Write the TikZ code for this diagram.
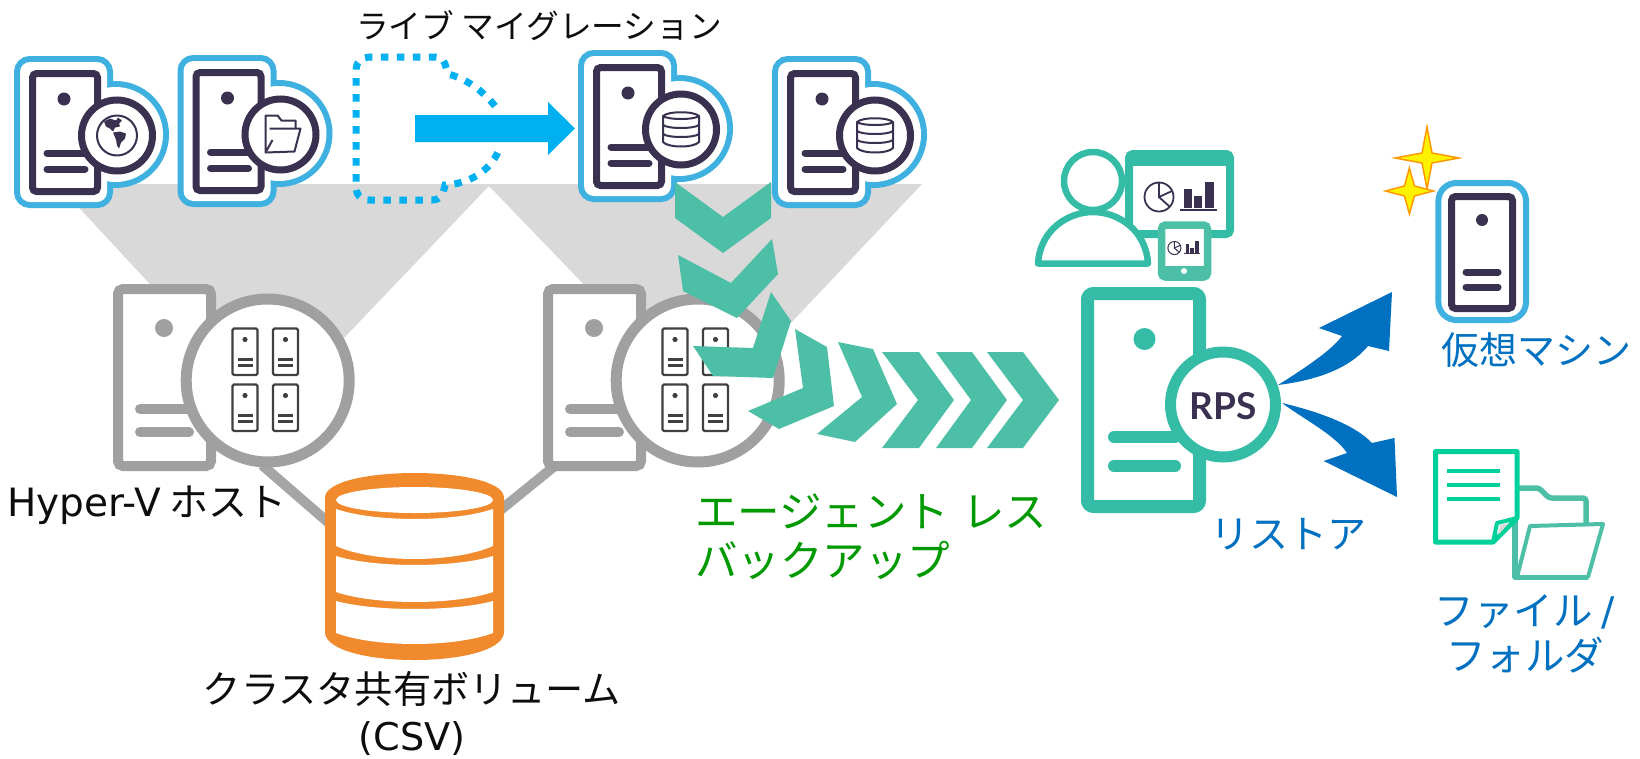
\documentclass[tikz,border=0pt]{standalone}
\usepackage{fontspec}
\usepackage{xcolor}
\setmainfont{Noto Sans CJK JP}
\newfontfamily\latinfont{DejaVu Sans}
\newfontfamily\badgefont{Lato}
\usetikzlibrary{calc}
\definecolor{vmblue}{HTML}{3FB1E0}
\definecolor{vmdark}{HTML}{3A3050}
\definecolor{wedge}{HTML}{D9D9D9}
\definecolor{hostgrey}{HTML}{A0A0A0}
\definecolor{glyphgrey}{HTML}{404040}
\definecolor{drum}{HTML}{F08A2C}
\definecolor{skyarrow}{HTML}{00B0F0}
\definecolor{chevron}{HTML}{4DBFA6}
\definecolor{rpsteal}{HTML}{34BCA6}
\definecolor{restoreblue}{HTML}{0070C0}
\definecolor{filegreen}{HTML}{00D19A}
\definecolor{agentgreen}{HTML}{009900}
\newcommand{\sized}[2]{\fontsize{#1}{#2}\selectfont}
\tikzset{
  every node/.style = {inner sep=0pt, text=black!95}
}
\tikzset{
  vm ring/.style = {draw=vmblue, line width=12pt},
  vm frame/.style = {draw=vmdark, line width=7pt, rounded corners=4pt},
  vm bar/.style = {draw=vmdark, line width=7pt, line cap=round},
  glyph line/.style = {draw=vmdark, line width=2pt, line join=round},
  host frame/.style = {draw=hostgrey, line width=10pt, rounded corners=5pt, fill=white},
  host bar/.style = {draw=hostgrey, line width=10pt, line cap=round},
  csv link/.style = {draw=hostgrey!95, line width=10pt},
  rps frame/.style = {draw=rpsteal, line width=13pt, rounded corners=6pt, fill=white},
  rps bar/.style = {draw=rpsteal, line width=12pt, line cap=round},
  person line/.style = {draw=rpsteal, line width=6.5pt, fill=white},
  spark/.style = {fill=yellow, draw=orange!80!yellow, line width=1.5pt, line join=miter}
}
\newcommand{\drawvm}[3]{
  \begin{scope}[shift={(#1,#2)}]
    \draw[vm ring, rounded corners=10pt] (6,6) rectangle (93,146);
    \draw[vm ring] (101.5,78.5) circle[radius=47.5];
    \fill[white, rounded corners=10pt] (6,6) rectangle (93,146);
    \fill[white] (101.5,78.5) circle[radius=47.5];
    \draw[vm frame] (18.5,17.5) rectangle (83.5,135.5);
    \fill[vmdark] (50,43) circle[radius=6.5];
    \draw[vm bar] (33,97) -- (71,97);
    \draw[vm bar] (33,113) -- (71,113);
    \draw[draw=vmdark, line width=7pt, fill=white] (103,79.5) circle[radius=35.5];
    #3
  \end{scope}
}
\newcommand{\glyphglobe}{
  \draw[glyph line] (103,79.5) circle[radius=20];
  \fill[vmdark, rounded corners=0.5pt] (90,65.5) -- (96,62.5) -- (102,64.5) -- (104,61.5) -- (108,64.5)
    -- (105,67.5) -- (106,70.5) -- (101,71.5) -- (99,75.5) -- (96,72.5) -- (92,70.5) -- cycle;
  \fill[vmdark, rounded corners=0.5pt] (99,76.5) -- (106,75.5) -- (112,77.5) -- (111,82.5)
    -- (107,86.5) -- (105,92.5) -- (103,89.5) -- (102,83.5) -- cycle;
}
\newcommand{\glyphfolder}{
  \draw[glyph line] (95,85) -- (88,97.5) -- (88,60.5) -- (100,60.5) -- (104,65.5) -- (118,65.5) -- (118,73.5);
  \draw[glyph line] (92,73.5) -- (123,73.5) -- (117,96.5) -- (88,97.5);
}
\newcommand{\glyphdb}{
  \draw[glyph line] (85,66) .. controls (90,61) and (116,61) .. (121,66)
    .. controls (116,70) and (90,70) .. (85,66) -- (85,92)
    .. controls (90,98) and (116,98) .. (121,92) -- (121,66);
  \draw[glyph line] (85,75) .. controls (90,79) and (116,79) .. (121,75);
  \draw[glyph line] (85,84) .. controls (90,88) and (116,88) .. (121,84);
}
\newcommand{\drawhost}[1]{
  \begin{scope}[shift={(#1,0)}]
    \draw[host frame] (118,289) rectangle (211,466);
    \fill[hostgrey] (164,328) circle[radius=9];
    \draw[host bar] (140,409) -- (190,409);
    \draw[host bar] (140,432) -- (189,432);
    \draw[draw=hostgrey, line width=11pt, fill=white] (267.7,380.5) circle[radius=81.5];
    \foreach \gx in {232.5,273} {
      \foreach \gy in {328.5,384.5} {
        \begin{scope}[shift={(\gx,\gy)}]
          \draw[draw=glyphgrey, line width=2.4pt, rounded corners=1.5pt] (0,0) rectangle (25,46.5);
          \fill[glyphgrey] (12.5,11) circle[radius=2.6];
          \draw[draw=glyphgrey, line width=2.4pt] (5,31) -- (20,31);
          \draw[draw=glyphgrey, line width=2.4pt] (5,37) -- (20,37);
        \end{scope}
      }
    }
  \end{scope}
}
\newcommand{\drumcell}[4]{
  \fill[white] (336,#1) .. controls (375,{#1+(#2-#1)*1.33}) and (454,{#1+(#2-#1)*1.33}) .. (493,#1)
    -- (493,#3) .. controls (454,{#3+(#4-#3)*1.33}) and (375,{#3+(#4-#3)*1.33}) .. (336,#3) -- cycle;
}
\newcommand{\drawcharts}[4]{
  \begin{scope}[shift={(#1,#2)}, scale=#3]
    \draw[draw=vmdark, line width=#4] (0,0) circle[radius=14.5];
    \draw[draw=vmdark, line width=#4] (0,-14.5) -- (0,0) -- (13,-6);
    \draw[draw=vmdark, line width=#4] (0,0) -- (11,10);
    \fill[vmdark] (25,-8) rectangle (32.5,11);
    \fill[vmdark] (35,-1) rectangle (43,11);
    \fill[vmdark] (46,-15) rectangle (54.5,11);
    \draw[draw=vmdark, line width=#4] (21,13) -- (57.5,13);
  \end{scope}
}
\newcommand{\drawspark}[4]{
  \filldraw[spark] (#1,{#2-#4}) -- ({#1+5},{#2-5}) -- ({#1+#3},#2) -- ({#1+5},{#2+5})
    -- (#1,{#2+#4}) -- ({#1-5},{#2+5}) -- ({#1-#3},#2) -- ({#1-5},{#2-5}) -- cycle;
}

\begin{document}
\begin{tikzpicture}[x=1pt, y=-1pt]
  \useasboundingbox (0,0) rectangle (1640,758);

  % grey wedges under the guests
  \fill[wedge] (57,184) -- (922,184) -- (790,324) -- (620,322) -- (489,186)
    -- (344,338) -- (200,338) -- cycle;

  % links to the shared volume
  \coordinate (hostleft foot) at (262,465);
  \coordinate (hostright foot) at (572,452);
  \coordinate (csv west) at (330,524);
  \coordinate (csv east) at (498,512);
  \draw[csv link] (hostleft foot) -- (csv west);
  \draw[csv link] (hostright foot) -- (csv east);

  \drawhost{0}
  \drawhost{430}

  % shared volume
  \fill[drum] (325,497) .. controls (328,465) and (501,465) .. (504,497) -- (504,633)
    .. controls (500,669) and (329,669) .. (325,633) -- cycle;
  \fill[white] (414.5,500) ellipse[x radius=78.5, y radius=13];
  \drumcell{509}{519}{546}{559}
  \drumcell{556}{565}{592}{602}
  \drumcell{601}{609}{633}{644}

  % guests
  \drawvm{14}{56}{\glyphglobe}
  \drawvm{177.5}{55}{\glyphfolder}
  \drawvm{578}{50}{\glyphdb}
  \drawvm{772}{56}{\glyphdb}

  % moving guest
  \draw[draw=skyarrow, line width=7pt, dash pattern=on 7.5pt off 8.5pt]
    (495,106) .. controls (483,91) and (467,79) .. (448,74) -- (445,64)
    .. controls (443,59) and (440,57) .. (436,57) -- (372,57)
    .. controls (360,57) and (356,62) .. (356,72) -- (356,185)
    .. controls (356,195) and (360,200) .. (370,200) -- (432,200)
    .. controls (440,200) and (443,195) .. (445,185)
    .. controls (470,184) and (490,170) .. (498,152);
  \fill[skyarrow] (415,115) -- (548,115) -- (548,102) -- (575,128.5) -- (548,155)
    -- (548,142) -- (415,142) -- cycle;

  % backup chevrons
  \fill[chevron] (675,182) -- (723,217) -- (771,182) -- (771,218) -- (723,253) -- (675,218) -- cycle;
  \fill[chevron] (678,255) -- (731,283) -- (772,239) -- (778,274) -- (737,318) -- (683,291) -- cycle;
  \fill[chevron] (771,292) -- (791,321) -- (773,378) -- (713,376) -- (693,346) -- (753,348) -- cycle;
  \fill[chevron] (795,329) -- (827,347) -- (834,406) -- (779,429) -- (748,411) -- (803,388) -- cycle;
  \fill[chevron] (838,342) -- (873,349) -- (897,404) -- (855,442) -- (817,434) -- (862,397) -- cycle;
  \fill[chevron] (882,352) -- (919,352) -- (954,400) -- (919,448) -- (882,448) -- (918,400) -- cycle;
  \fill[chevron] (936,352) -- (972,352) -- (1007,400) -- (972,448) -- (936,448) -- (971,400) -- cycle;
  \fill[chevron] (987,352) -- (1023,352) -- (1059,400) -- (1023,448) -- (987,448) -- (1023,400) -- cycle;

  % recovery point server
  \draw[rps frame] (1087.5,293.5) rectangle (1199.5,506.5);
  \fill[rpsteal] (1144.5,339) circle[radius=11];
  \draw[rps bar] (1114,437) -- (1175,437);
  \draw[rps bar] (1114,466) -- (1175,466);
  \draw[draw=rpsteal, line width=11pt, fill=white] (1223,404.5) circle[radius=52.5];
  \node[text=vmdark, font=\badgefont\bfseries\sized{37}{37}] (rps) at (1223,406) {RPS};

  % monitor, user and tablet
  \draw[draw=rpsteal, line width=8pt, rounded corners=4pt, fill=white] (1129,154) rectangle (1230,234);
  \fill[rpsteal] (1129,154) rectangle (1230,166);
  \drawcharts{1159}{197}{1}{1.8pt}
  \draw[person line, line join=round] (1038,263.5) .. controls (1040,230) and (1068,212) .. (1093,212)
    .. controls (1118,212) and (1146,230) .. (1148,263.5) -- cycle;
  \draw[person line] (1093,181) circle[radius=29];
  \draw[draw=chevron, line width=7.5pt, rounded corners=4pt, fill=white] (1161.5,225) rectangle (1207.5,277);
  \fill[chevron] (1161.5,266) rectangle (1207.5,277);
  \fill[white] (1184,271) circle[radius=3];
  \drawcharts{1174.4}{248}{0.45}{1pt}

  % restore arrows
  \fill[restoreblue] (1278,385) .. controls (1305,368) and (1332,350) .. (1342,336)
    -- (1319,328) -- (1392,292) -- (1389,351) -- (1368,346)
    .. controls (1350,368) and (1318,380) .. (1278,385) -- cycle;
  \fill[restoreblue] (1282,403) .. controls (1320,412) and (1355,425) .. (1372,443)
    -- (1394.5,438) -- (1397,497) -- (1323.7,461) -- (1347,453)
    .. controls (1335,435) and (1305,420) .. (1282,403) -- cycle;

  % restored guest and sparkles
  \draw[draw=vmblue, line width=6pt, rounded corners=18pt] (1438.4,183) rectangle (1526,320);
  \draw[vm frame] (1451.5,196.5) rectangle (1512.5,308.5);
  \fill[vmdark] (1482,220) circle[radius=6];
  \draw[vm bar] (1466,272) -- (1498,272);
  \draw[vm bar] (1466,287) -- (1498,287);
  \drawspark{1427}{158}{32}{31}
  \drawspark{1409.4}{191}{24}{23}

  % restored folder and file
  \draw[draw=chevron, line width=5.5pt, line join=round] (1515,518) -- (1515,577) -- (1588,577);
  \draw[draw=chevron, line width=5.5pt, rounded corners=3pt] (1519,488) -- (1539,488) -- (1549,498) -- (1586,498) -- (1586,524);
  \draw[draw=chevron, line width=4pt, line join=round, fill=white] (1517,577) -- (1530,526) -- (1603,524) -- (1588,577) -- cycle;
  \draw[draw=filegreen, line width=5pt, line join=round, fill=white] (1435.5,451.5) -- (1517,451.5) -- (1517,518)
    -- (1493,542) -- (1435.5,542) -- cycle;
  \fill[wedge] (1500,525) -- (1509,523) -- (1498,535) -- cycle;
  \draw[draw=filegreen, line width=4pt, line join=round] (1517,518) -- (1497,523) -- (1493,542);
  \draw[draw=filegreen, line width=4pt] (1447,471) -- (1500,471);
  \draw[draw=filegreen, line width=4pt] (1447,485) -- (1500,485);
  \draw[draw=filegreen, line width=4pt] (1447,499) -- (1500,499);

  % captions
  \node[font=\sized{32.7}{33}] (migration) at (539,26) {ライブ マイグレーション};
  \node[font=\sized{39}{39}] (hostlabel) at (147,505) {{\latinfont Hyper-V} ホスト};
  \node[font=\sized{38.2}{47}, align=center] (csvlabel) at (412,713) {クラスタ共有ボリューム\\{\latinfont (CSV)}};
  \node[font=\sized{42.5}{49}, align=left, text=agentgreen, anchor=west] (agentless) at (695,537) {エージェント\hspace{0.3em}レス\\バックアップ};
  \node[font=\sized{39}{39}, text=restoreblue] (restore) at (1288,534) {リストア};
  \node[font=\sized{38}{38}, text=restoreblue] (vmlabel) at (1536,350) {仮想マシン};
  \node[font=\sized{39.5}{45}, align=center, text=restoreblue] (filelabel) at (1525,634) {ファイル {\latinfont /}\\フォルダ};
\end{tikzpicture}
\end{document}
